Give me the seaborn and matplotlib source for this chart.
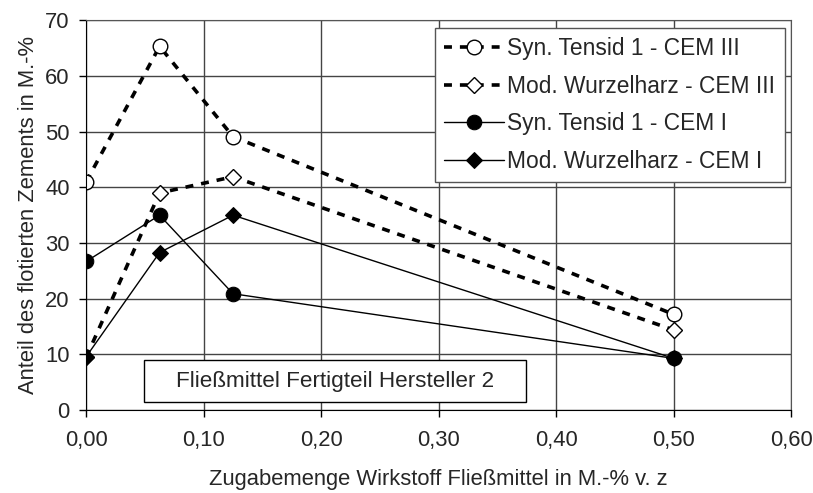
import seaborn as sns
import matplotlib.pyplot as plt
import matplotlib.patches as mpatches
import pandas as pd

# Werte
dosage = [0.0, 0.0625, 0.125, 0.5]
syn_cem3 = [41.0, 65.3, 49.1, 17.2]
mod_cem3 = [9.5, 39.0, 41.9, 14.4]
syn_cem1 = [26.7, 35.0, 20.9, 9.3]
mod_cem1 = [9.6, 28.3, 35.0, 9.3]
labels = ["Syn. Tensid 1 - CEM III", "Mod. Wurzelharz - CEM III",
          "Syn. Tensid 1 - CEM I", "Mod. Wurzelharz - CEM I"]
x_ticks = [0.0, 0.1, 0.2, 0.3, 0.4, 0.5, 0.6]
y_ticks = [0, 10, 20, 30, 40, 50, 60, 70]

sns.set_style("white")
plt.rcParams['font.family'] = ['Liberation Sans', 'DejaVu Sans']
fs = 15.8

fig = plt.figure(figsize=(8.13, 4.93), dpi=100)
ax = fig.add_axes([0.106, 0.168, 0.867, 0.791])

dash = (0, (2.2, 2.2))
styles = [
    dict(linestyle=dash, linewidth=2.6, marker="o", markersize=10.5,
         markerfacecolor="white", markeredgecolor="black", markeredgewidth=1.0),
    dict(linestyle=dash, linewidth=2.6, marker="D", markersize=8,
         markerfacecolor="white", markeredgecolor="black", markeredgewidth=1.0),
    dict(linestyle="-", linewidth=1.0, marker="o", markersize=10.5,
         markerfacecolor="black", markeredgecolor="black"),
    dict(linestyle="-", linewidth=1.0, marker="D", markersize=8,
         markerfacecolor="black", markeredgecolor="black"),
]

for values, label, st in zip([syn_cem3, mod_cem3, syn_cem1, mod_cem1], labels, styles):
    df = pd.DataFrame({"x": dosage, "y": values})
    sns.lineplot(data=df, x="x", y="y", ax=ax, color="black", label=label, **st)

ax.set_xlim(0, 0.6)
ax.set_ylim(0, 70)
ax.set_xticks(x_ticks)
ax.set_xticklabels([f"{t:.2f}".replace(".", ",") for t in x_ticks])
ax.set_yticks(y_ticks)
ax.grid(True, color="#444444", linewidth=1.0)
ax.set_axisbelow(True)
for side in ["top", "right"]:
    ax.spines[side].set_color("#555555")
for side in ["left", "bottom"]:
    ax.spines[side].set_color("black")
ax.tick_params(axis="both", direction="out", length=5, width=1, color="black",
               labelsize=fs, bottom=True, left=True)
ax.tick_params(axis="x", pad=9)
ax.tick_params(axis="y", pad=7)

ax.set_xlabel("Zugabemenge Wirkstoff Fließmittel in M.-% v. z", fontsize=fs, labelpad=13)
ax.set_ylabel("Anteil des flotierten Zements in M.-%", fontsize=fs, labelpad=4)

leg = ax.legend(loc="upper right", bbox_to_anchor=(0.991, 0.981), fontsize=16.4,
                frameon=True, fancybox=False, edgecolor="#555555", framealpha=1,
                handlelength=2.6, handletextpad=0.15, borderpad=0.42, labelspacing=0.64,
                borderaxespad=0)
leg.get_frame().set_linewidth(1.0)

# Textfeld unten links
ax.add_patch(mpatches.Rectangle((0.0823, 0.0205), 0.541, 0.108, transform=ax.transAxes,
                                facecolor="white", edgecolor="black", linewidth=1, zorder=5))
ax.text(0.3525, 0.0745, "Fließmittel Fertigteil Hersteller 2", transform=ax.transAxes,
        ha="center", va="center", fontsize=16.2, zorder=6)

fig.savefig("out.png", dpi=100)
